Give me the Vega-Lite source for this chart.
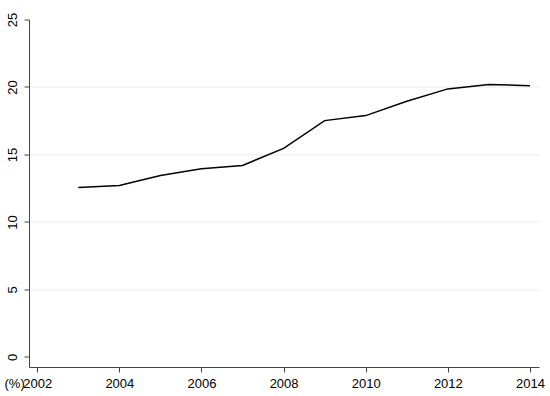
{
  "$schema": "https://vega.github.io/schema/vega-lite/v6.json",
  "autosize": "none",
  "width": 510,
  "height": 347.5,
  "padding": {"left": 29, "top": 19.5, "right": 11, "bottom": 29},
  "background": "white",
  "config": {
    "view": {"stroke": null},
    "font": "Liberation Sans",
    "axis": {
      "labelFont": "Liberation Sans",
      "titleFont": "Liberation Sans",
      "labelFontSize": 13,
      "titleFontSize": 13,
      "labelColor": "#000",
      "titleColor": "#000",
      "titleFontWeight": "normal",
      "domainColor": "#444",
      "tickColor": "#444",
      "domainWidth": 1,
      "tickWidth": 1,
      "tickSize": 5
    }
  },
  "data": {
    "values": [
      {"year": 2003, "value": 12.56},
      {"year": 2004, "value": 12.71},
      {"year": 2005, "value": 13.45},
      {"year": 2006, "value": 13.95},
      {"year": 2007, "value": 14.19},
      {"year": 2008, "value": 15.45},
      {"year": 2009, "value": 17.51},
      {"year": 2010, "value": 17.88},
      {"year": 2011, "value": 18.94},
      {"year": 2012, "value": 19.86},
      {"year": 2013, "value": 20.18},
      {"year": 2014, "value": 20.1}
    ]
  },
  "mark": {"type": "line", "color": "#000", "strokeWidth": 1.5},
  "encoding": {
    "x": {
      "field": "year",
      "type": "quantitative",
      "scale": {"domain": [2001.8, 2014.22], "nice": false, "zero": false},
      "axis": {
        "values": [2002, 2004, 2006, 2008, 2010, 2012, 2014],
        "format": "d",
        "grid": false,
        "labelBaseline": "alphabetic",
        "labelPadding": 15,
        "labelFlush": false,
        "title": "(%)",
        "titleX": -25,
        "titleY": 20,
        "titleAlign": "left",
        "titleBaseline": "alphabetic",
        "titleAnchor": "start"
      }
    },
    "y": {
      "field": "value",
      "type": "quantitative",
      "scale": {"domain": [-0.741, 25], "nice": false, "zero": false},
      "axis": {
        "values": [0, 5, 10, 15, 20, 25],
        "title": null,
        "labelAngle": -90,
        "labelAlign": "center",
        "labelBaseline": "alphabetic",
        "labelPadding": 8,
        "labelFlush": false,
        "grid": true,
        "gridColor": "#e6eef0",
        "gridWidth": 1,
        "gridOpacity": {"condition": {"test": "datum.value == 0 || datum.value == 25", "value": 0}, "value": 1}
      }
    }
  }
}
